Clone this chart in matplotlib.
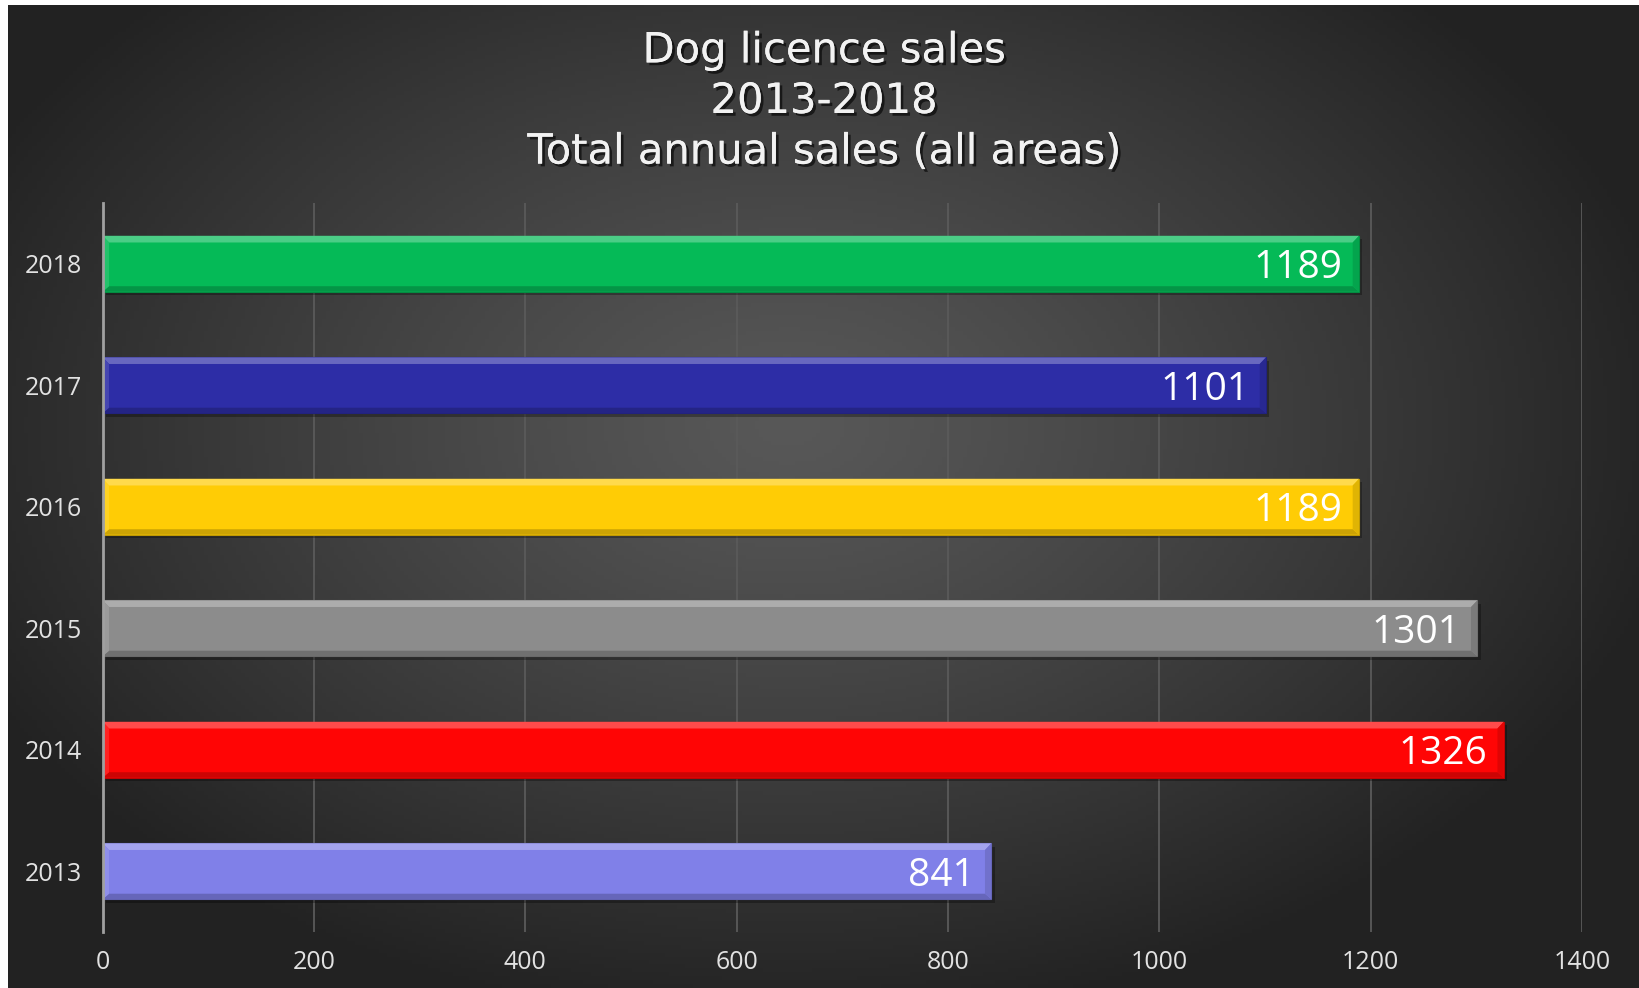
import matplotlib
matplotlib.use("Agg")
import matplotlib.pyplot as plt
import matplotlib.patheffects as pe
import numpy as np
from matplotlib.patches import Polygon
from matplotlib.colors import to_rgb

years = ["2013", "2014", "2015", "2016", "2017", "2018"]
sales = [841, 1326, 1301, 1189, 1101, 1189]
bar_colors = ["#8080E8", "#FF0505", "#8C8C8C", "#FFCC05", "#2D2DA6", "#05BA57"]
title = "Dog licence sales\n2013-2018\nTotal annual sales (all areas)"

plt.rcParams['font.family'] = ['Open Sans', 'DejaVu Sans']


def shade(c, f):
    r = np.array(to_rgb(c))
    if f > 0:
        return tuple(r + (1 - r) * f)
    return tuple(r * (1 + f))


fig = plt.figure(figsize=(16.4, 9.88), dpi=100)
fig.patch.set_facecolor("white")

# dark radial background
bg = fig.add_axes([8 / 1640, 0, 1632 / 1640, 983 / 988])
bg.set_axis_off()
gx, gy = np.meshgrid(np.linspace(0, 1632, 400), np.linspace(0, 983, 250))
d = np.sqrt(((gx - 780) / 900) ** 2 + ((gy - 420) / 600) ** 2)
d = np.clip(d, 0, 1)
lum = 0.345 - (0.345 - 0.135) * d ** 1.2
img = np.dstack([lum, lum, lum])
bg.imshow(img, aspect="auto", extent=[0, 1, 0, 1], origin="upper")
bg.set_xlim(0, 1)
bg.set_ylim(0, 1)

ax = fig.add_axes([102.7 / 1640, 1 - 932 / 988, (1582 - 102.7) / 1640, (932 - 203) / 988])
ax.patch.set_alpha(0)
ax.set_xlim(0, 1400)
ax.set_ylim(-0.5, 5.5)

ypos = np.arange(len(years))
h = 0.46
bx = 6.0      # bevel width in data x units (~6 px)
byt = 0.055   # top bevel height
byb = 0.045   # bottom bevel height

# shadows
ax.barh(ypos - 0.03, sales, height=h, left=3, color="black", alpha=0.3, zorder=2)

for y, v, c in zip(ypos, sales, bar_colors):
    top = y + h / 2
    bot = y - h / 2
    ax.add_patch(Polygon([[0, bot], [v, bot], [v, top], [0, top]], closed=True,
                         facecolor=c, edgecolor=shade(c, -0.25), lw=0.8, zorder=3))
    # top highlight
    ax.add_patch(Polygon([[0, top], [v, top], [v - bx, top - byt], [bx, top - byt]],
                         closed=True, facecolor=shade(c, 0.28), edgecolor="none", zorder=4))
    # bottom shade
    ax.add_patch(Polygon([[0, bot], [v, bot], [v - bx, bot + byb], [bx, bot + byb]],
                         closed=True, facecolor=shade(c, -0.2), edgecolor="none", zorder=4))
    # right end
    ax.add_patch(Polygon([[v, bot], [v, top], [v - bx, top - byt], [v - bx, bot + byb]],
                         closed=True, facecolor=shade(c, -0.12), edgecolor="none", zorder=4))
    # left end
    ax.add_patch(Polygon([[0, bot], [0, top], [bx, top - byt], [bx, bot + byb]],
                         closed=True, facecolor=shade(c, 0.12), edgecolor="none", zorder=4))
    ax.annotate(str(v), xy=(v, y), xytext=(-12, 0), textcoords="offset points",
                ha="right", va="center_baseline", color="white", fontsize=28, zorder=5)

ax.set_xticks(np.arange(0, 1401, 200))
ax.set_yticks(ypos)
ax.set_yticklabels(years)
ax.grid(axis="x", color="#5a5a5a", lw=1.3, zorder=1)
ax.set_axisbelow(True)
for s in ["top", "right", "bottom"]:
    ax.spines[s].set_visible(False)
ax.spines["left"].set_color("#a0a0a0")
ax.spines["left"].set_linewidth(2)
ax.spines["left"].set_zorder(6)
ax.tick_params(axis="both", length=0, colors="#e2e2e2", labelsize=18)
ax.tick_params(axis="y", pad=15)
ax.tick_params(axis="x", pad=13)

fig.text(824 / 1640, 1 - 101 / 988, title, ha="center", va="center", color="#f2f2f2",
         fontsize=30, linespacing=1.26, family=["DejaVu Sans"],
         path_effects=[pe.withSimplePatchShadow(offset=(2, -2), shadow_rgbFace="black", alpha=0.6),
                       pe.Normal()])

fig.savefig("out.png", dpi=100, facecolor=fig.get_facecolor())
